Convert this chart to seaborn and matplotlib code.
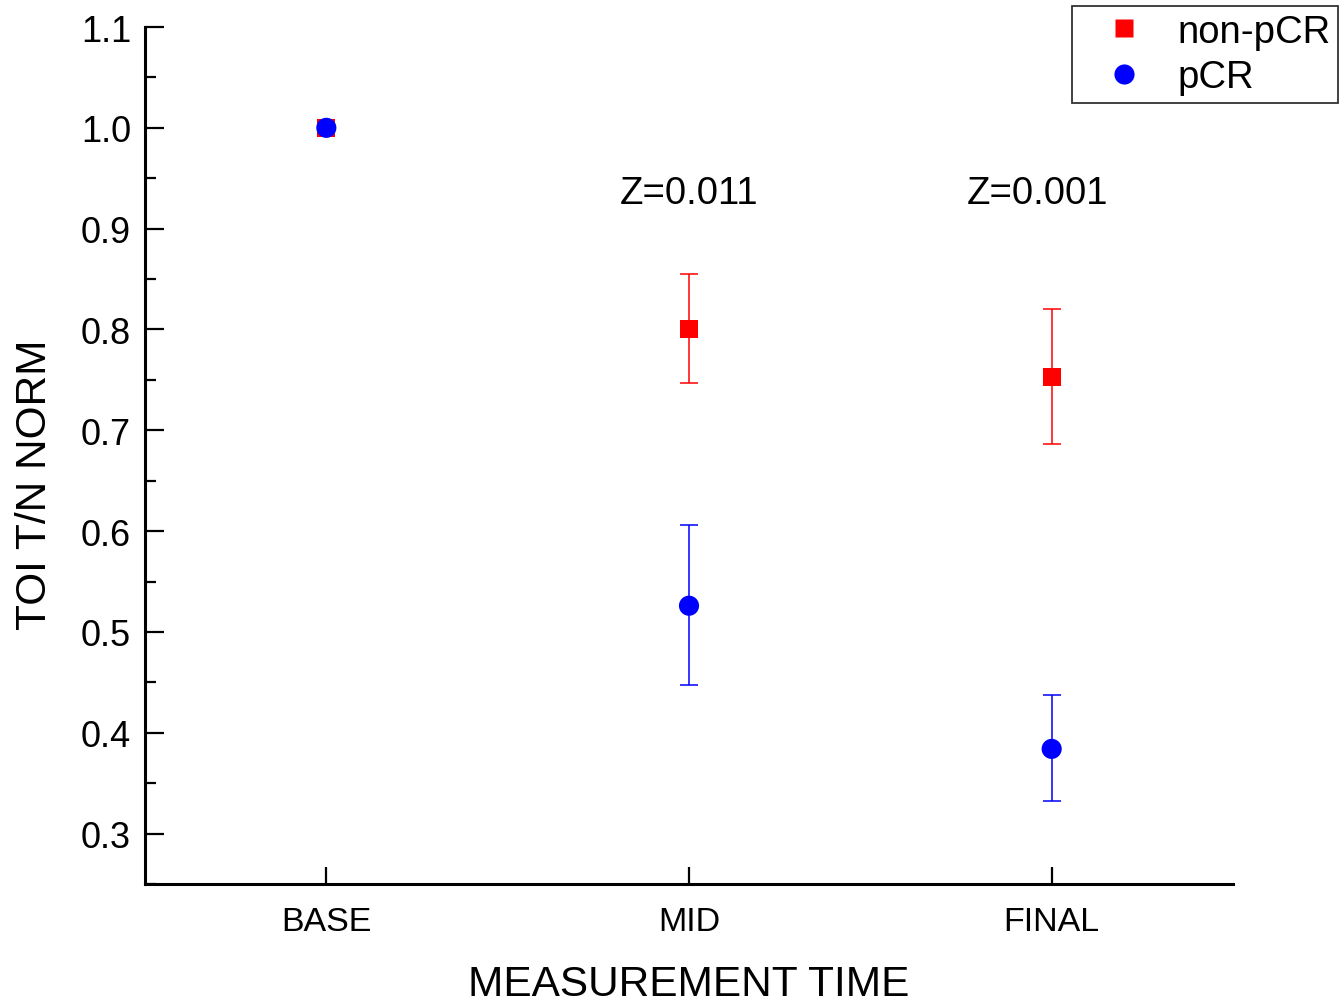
import matplotlib
matplotlib.use("Agg")
import matplotlib.pyplot as plt
import seaborn as sns
import pandas as pd
from matplotlib.ticker import MultipleLocator, FormatStrFormatter
from matplotlib.lines import Line2D

times = ["BASE", "MID", "FINAL"]
nonpcr_mean = [1.0, 0.800, 0.753]
nonpcr_lo = [1.0, 0.747, 0.686]
nonpcr_hi = [1.0, 0.855, 0.820]
pcr_mean = [1.0, 0.526, 0.384]
pcr_lo = [1.0, 0.447, 0.332]
pcr_hi = [1.0, 0.606, 0.437]
z_labels = ["", "Z=0.011", "Z=0.001"]
groups = ["non-pCR", "pCR"]

sns.set_style("white")
plt.rcParams['font.family'] = ['Liberation Sans', 'DejaVu Sans']
plt.rcParams['text.color'] = 'black'
plt.rcParams['axes.labelcolor'] = 'black'
plt.rcParams['xtick.color'] = 'black'
plt.rcParams['ytick.color'] = 'black'

fig = plt.figure(figsize=(13.4, 10.04), dpi=100)
ax = fig.add_axes([145/1340, 1-885/1004, (1233-145)/1340, (885-28)/1004])

xpos = list(range(len(times)))
df = pd.DataFrame({
    "x": xpos * 2,
    "y": nonpcr_mean + pcr_mean,
    "group": [groups[0]] * 3 + [groups[1]] * 3,
})

# error bars
for mean, lo, hi, c in [(nonpcr_mean, nonpcr_lo, nonpcr_hi, "#ff0000"),
                        (pcr_mean, pcr_lo, pcr_hi, "#0000ff")]:
    yerr = [[m - l for m, l in zip(mean, lo)], [h - m for m, h in zip(mean, hi)]]
    ax.errorbar(xpos, mean, yerr=yerr, fmt="none", ecolor=c, elinewidth=1.1,
                capsize=6.5, capthick=1.1, zorder=2)

sns.scatterplot(data=df[df.group == "non-pCR"], x="x", y="y", color="#ff0000",
                marker="s", s=13**2, edgecolor="none", ax=ax, zorder=3, legend=False)
sns.scatterplot(data=df[df.group == "pCR"], x="x", y="y", color="#0000ff",
                marker="o", s=14.5**2, edgecolor="none", ax=ax, zorder=4, legend=False)

z_shift = [0.0, 0.0, -0.038]
for x, z, dx in zip(xpos, z_labels, z_shift):
    if z:
        ax.text(x + dx, 0.935, z, ha="center", va="center", fontsize=27.5, color="black")

ax.set_xlim(-0.5, 2.5)
ax.set_ylim(0.25, 1.1)
ax.set_xticks(xpos)
ax.set_xticklabels(times)
ax.set_yticks([0.3, 0.4, 0.5, 0.6, 0.7, 0.8, 0.9, 1.0, 1.1])
ax.yaxis.set_minor_locator(MultipleLocator(0.05))
ax.yaxis.set_major_formatter(FormatStrFormatter("%.1f"))

ax.tick_params(axis="y", which="major", direction="in", length=13.5, width=1.6,
               labelsize=26, pad=10, left=True)
ax.tick_params(axis="y", which="minor", direction="in", length=8, width=1.6, left=True)
ax.tick_params(axis="x", which="major", direction="in", length=12, width=1.6,
               labelsize=24.5, pad=16, bottom=True)

for s in ["top", "right"]:
    ax.spines[s].set_visible(False)
for s in ["left", "bottom"]:
    ax.spines[s].set_linewidth(2.2)
    ax.spines[s].set_color("black")

ax.set_xlabel("MEASUREMENT TIME", fontsize=30.5, labelpad=19)
ax.set_ylabel("TOI T/N NORM", fontsize=30.5)
ax.yaxis.set_label_coords(-(145 - 55) / 1088, (885 - 485) / 857)

handles = [
    Line2D([], [], linestyle="none", marker="s", markersize=13.5, color="#ff0000", markeredgecolor="none"),
    Line2D([], [], linestyle="none", marker="o", markersize=14.5, color="#0000ff", markeredgecolor="none"),
]
leg = fig.legend(handles, groups, loc="upper right", bbox_to_anchor=(1338/1340, 1-7/1004),
                 fontsize=27.5, frameon=True, fancybox=False, handletextpad=0.22,
                 borderpad=0.2, labelspacing=0.25, handlelength=2.34, borderaxespad=0)
leg.get_frame().set_edgecolor("black")
leg.get_frame().set_linewidth(1.3)

fig.savefig("out.png", dpi=100, facecolor="white")
